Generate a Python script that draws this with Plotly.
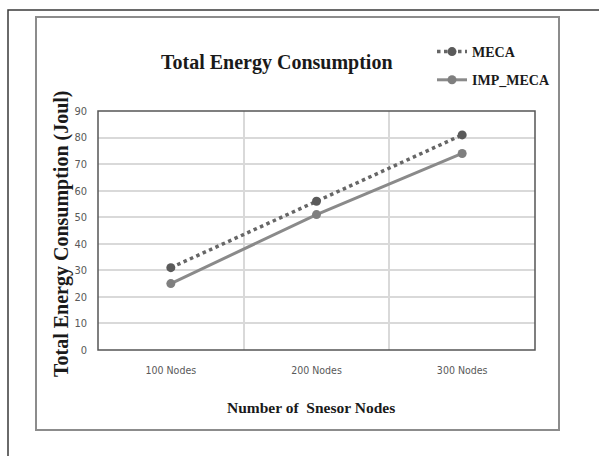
import plotly.graph_objects as go

categories = ["100 Nodes", "200 Nodes", "300 Nodes"]
meca = [31, 56, 81]
imp_meca = [25, 51, 74]
y_ticks = [0, 10, 20, 30, 40, 50, 60, 70, 80, 90]

W, H = 599, 456
L, R, T, B = 98, 535, 111, 350  # plot area in pixels

def px(x):
    return (x - L) / (R - L)

def py(y):
    return (B - y) / (B - T)

serif = "Liberation Serif, Times New Roman, serif"
narrow = "DejaVu Sans Condensed, Liberation Sans Narrow, Arial Narrow, sans-serif"

fig = go.Figure()
fig.add_trace(go.Scatter(
    x=categories, y=meca, name="<b>MECA</b>", mode="lines+markers",
    line=dict(color="#666666", width=3.5, dash="dot"),
    marker=dict(color="#5a5a5a", size=9, symbol="circle"),
    legendgroup="a",
))
fig.add_trace(go.Scatter(
    x=categories, y=imp_meca, name="<b>IMP_MECA</b>", mode="lines+markers",
    line=dict(color="#8a8a8a", width=3),
    marker=dict(color="#7f7f7f", size=9, symbol="circle"),
    legendgroup="b",
))

shapes = [
    dict(type="rect", xref="paper", yref="paper",
         x0=px(8), x1=px(640), y0=py(500), y1=py(10),
         line=dict(color="#3a3a3a", width=1.5), layer="below"),
    dict(type="rect", xref="paper", yref="paper",
         x0=px(36), x1=px(559), y0=py(430), y1=py(17),
         line=dict(color="#8c8c8c", width=2), layer="below"),
    dict(type="rect", xref="paper", yref="paper",
         x0=0, x1=1, y0=0, y1=1,
         line=dict(color="#555555", width=1.5), layer="above"),
]

annotations = [
    dict(text="<b>Total Energy Consumption</b>", xref="paper", yref="paper",
         x=px(277), y=py(63), showarrow=False, xanchor="center", yanchor="middle",
         font=dict(family=serif, size=20, color="#1a1a1a")),
    dict(text="<b>Number of  Snesor Nodes</b>", xref="paper", yref="paper",
         x=px(311), y=py(407), showarrow=False, xanchor="center", yanchor="middle",
         font=dict(family=serif, size=15.5, color="#1a1a1a")),
    dict(text="<b>Total Energy Consumption (Joul)</b>", xref="paper", yref="paper",
         x=px(61), y=py(234), showarrow=False, xanchor="center", yanchor="middle",
         textangle=-90,
         font=dict(family=serif, size=20, color="#1a1a1a")),
]

fig.update_layout(
    width=W, height=H,
    margin=dict(l=L, r=W - R, t=T, b=H - B, pad=0),
    paper_bgcolor="white", plot_bgcolor="white",
    showlegend=True,
    legend=dict(
        x=px(432), y=py(36), xanchor="left", yanchor="top",
        font=dict(family=serif, size=14, color="#1a1a1a"),
        bgcolor="rgba(0,0,0,0)", traceorder="grouped", tracegroupgap=7,
        itemwidth=30,
    ),
    shapes=shapes,
    annotations=annotations,
    xaxis=dict(
        type="category", range=[-0.5, 2.5], tickson="boundaries",
        showgrid=True, gridcolor="#d9d9d9", gridwidth=1.5,
        zeroline=False, showline=False, ticks="",
        tickfont=dict(family=narrow, size=10.5, color="#595959"),
        ticklabelstandoff=12, fixedrange=True,
    ),
    yaxis=dict(
        range=[0, 90], tickvals=y_ticks, showgrid=True, gridcolor="#d9d9d9",
        gridwidth=1.5, zeroline=False, showline=False, ticks="",
        tickfont=dict(family=narrow, size=11, color="#595959"),
        ticklabelstandoff=10, fixedrange=True,
    ),
)

fig.write_html("out.html")
